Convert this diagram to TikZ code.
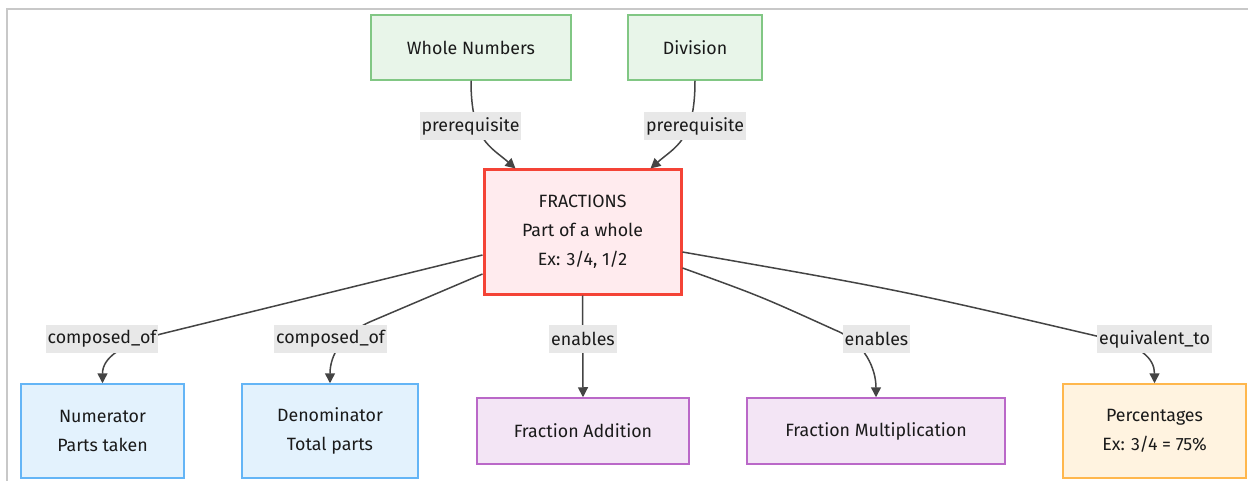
\documentclass[tikz,border=0pt]{standalone}
\usepackage{fontspec}
\setmainfont{Fira Sans}
\usetikzlibrary{arrows.meta}
\definecolor{txt}{HTML}{1A1A1A}
\definecolor{edgec}{HTML}{444444}
\definecolor{lblbg}{HTML}{E8E8E8}
\definecolor{frame}{HTML}{C8C8C8}
\definecolor{gfill}{HTML}{E8F5E9}\definecolor{gdraw}{HTML}{81C784}
\definecolor{rfill}{HTML}{FFEBEE}\definecolor{rdraw}{HTML}{F44336}
\definecolor{bfill}{HTML}{E3F2FD}\definecolor{bdraw}{HTML}{64B5F6}
\definecolor{pfill}{HTML}{F3E5F5}\definecolor{pdraw}{HTML}{BA68C8}
\definecolor{ofill}{HTML}{FFF3E0}\definecolor{odraw}{HTML}{FFB74D}
\begin{document}
\begin{tikzpicture}[x=1pt,y=-1pt,
  box/.style={draw, line width=1.5pt, align=center, inner sep=0pt, text=txt,
    font=\fontsize{17.8}{29}\selectfont},
  gbox/.style={box, fill=gfill, draw=gdraw},
  rbox/.style={box, fill=rfill, draw=rdraw, line width=3pt},
  bbox/.style={box, fill=bfill, draw=bdraw},
  pbox/.style={box, fill=pfill, draw=pdraw},
  obox/.style={box, fill=ofill, draw=odraw},
  lbl/.style={fill=lblbg, text=txt, inner xsep=2pt, inner ysep=0pt, minimum height=28pt,
    font=\fontsize{17.8}{20}\selectfont},
  edge/.style={draw=edgec, line width=1.5pt, -{Triangle[length=10pt,width=10pt]}}
]
\useasboundingbox (0,0) rectangle (1248,481);
\fill[white] (0,0) rectangle (1248,481);
\draw[frame, line width=1.2pt] (7,481) -- (7,9) -- (1248,9);

% nodes
\node[gbox, minimum width=200pt, minimum height=65pt] (wn) at (471,47.5) {Whole Numbers};
\node[gbox, minimum width=134pt, minimum height=65pt] (dv) at (695,47.5) {Division};
\node[rbox, minimum width=197pt, minimum height=124pt] (fr) at (582.5,232) {FRACTIONS\\Part of a whole\\Ex: 3/4, 1/2};
\node[bbox, minimum width=163pt, minimum height=94pt] (num) at (102.5,431) {Numerator\\Parts taken};
\node[bbox, minimum width=176pt, minimum height=94pt] (den) at (330,431) {Denominator\\Total parts};
\node[pbox, minimum width=212pt, minimum height=66pt] (fa) at (583,431) {Fraction Addition};
\node[pbox, minimum width=258pt, minimum height=66pt] (fm) at (876,431) {Fraction Multiplication};
\node[obox, minimum width=183pt, minimum height=94pt] (pc) at (1154.5,431) {Percentages\\Ex: 3/4 = 75\%};

% edges
\draw[edge] (wn.south) .. controls +(0,60) and +(-25,-22) .. ([xshift=33pt]fr.north west);
\draw[edge] (dv.south) .. controls +(0,60) and +(25,-22) .. ([xshift=-32pt]fr.north east);
\draw[edge] ([yshift=-23pt]fr.west) -- (165,333) .. controls +(-45,11) and +(0,-25) .. (num.north);
\draw[edge] ([yshift=-42pt]fr.west) -- (372,321) .. controls +(-30,12.6) and +(0,-28) .. (den.north);
\draw[edge] (fr.south) -- (fa.north);
\draw[edge] ([yshift=-36pt]fr.east) .. controls (760,296) .. (835,330) .. controls +(30,12) and +(0,-28) .. (fm.north);
\draw[edge] ([yshift=-20pt]fr.east) .. controls (900,290) .. (1105,338) .. controls +(35,7) and +(0,-25) .. (pc.north);

% labels
\node[lbl] (l1) at (470.5,126) {prerequisite};
\node[lbl] (l2) at (695,126) {prerequisite};
\node[lbl] (l3) at (102,339) {composed\_of};
\node[lbl] (l4) at (330.5,339) {composed\_of};
\node[lbl] (l5) at (583,339) {enables};
\node[lbl] (l6) at (876.5,339) {enables};
\node[lbl] (l7) at (1154.5,339) {equivalent\_to};
\end{tikzpicture}
\end{document}
